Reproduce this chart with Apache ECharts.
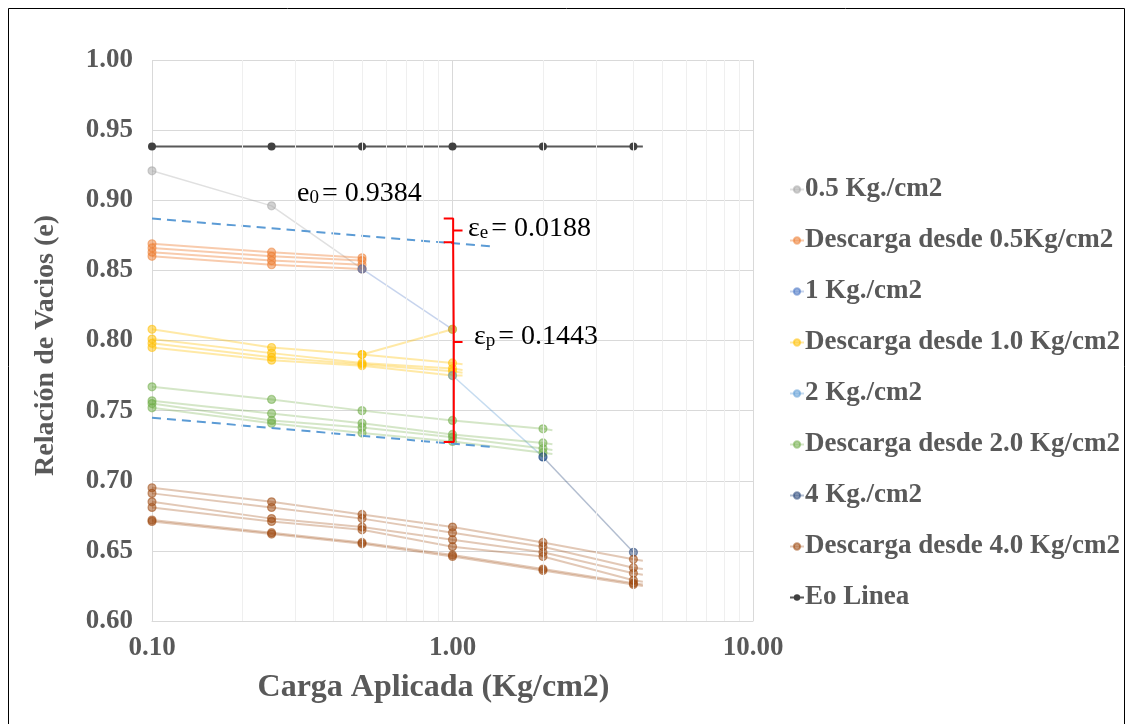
<!DOCTYPE html>
<html>
<head>
<meta charset="utf-8">
<script src="https://cdn.jsdelivr.net/npm/echarts@6/dist/echarts.min.js"></script>
<style>
    html, body { margin: 0; padding: 0; background: #fff; }
    #chart { width: 1126px; height: 724px; }
</style>
</head>
<body>
<div id="chart"></div>
<script>
// ============================================
// 数据
// ============================================

// 加载曲线 (carga)
const x05 = [0.1, 0.25, 0.5];
const e05 = [0.921, 0.896, 0.851];
const x10 = [0.5, 1.0];
const e10 = [0.851, 0.808];
const x20 = [1.0, 2.0];
const e20 = [0.775, 0.717];
const x40 = [2.0, 4.0];
const e40 = [0.717, 0.649];

// 卸载曲线 (descarga)
const xDes05 = [0.1, 0.25, 0.5];
const eDes05 = [
    [0.869, 0.863, 0.859],
    [0.866, 0.860, 0.857],
    [0.863, 0.857, 0.854],
    [0.860, 0.854, 0.851]
];
const xDes10 = [0.1, 0.25, 0.5, 1.0, 1.08];
const eDes10 = [
    [0.808, 0.795, 0.790, 0.784, 0.783],
    [0.801, 0.791, 0.784, 0.780, 0.779],
    [0.798, 0.788, 0.783, 0.778, 0.777],
    [0.795, 0.786, 0.782, 0.775, 0.775]
];
const xDes10b = [0.5, 1.0];
const eDes10b = [0.790, 0.808];
const xDes20 = [0.1, 0.25, 0.5, 1.0, 2.0, 2.15];
const eDes20 = [
    [0.767, 0.758, 0.750, 0.743, 0.737, 0.736],
    [0.757, 0.748, 0.741, 0.733, 0.727, 0.726],
    [0.755, 0.743, 0.738, 0.731, 0.723, 0.722],
    [0.752, 0.741, 0.734, 0.728, 0.720, 0.719]
];
const xDes40 = [0.1, 0.25, 0.5, 1.0, 2.0, 4.0, 4.3];
const eDes40 = [
    [0.695, 0.685, 0.676, 0.667, 0.656, 0.644, 0.643],
    [0.691, 0.681, 0.673, 0.663, 0.653, 0.638, 0.637],
    [0.685, 0.673, 0.667, 0.658, 0.649, 0.634, 0.633],
    [0.681, 0.671, 0.665, 0.653, 0.646, 0.629, 0.628],
    [0.672, 0.663, 0.656, 0.647, 0.637, 0.627, 0.626],
    [0.671, 0.662, 0.655, 0.646, 0.636, 0.626, 0.625]
];

// e0 线
const xEo = [0.1, 0.25, 0.5, 1.0, 2.0, 4.0, 4.3];
const eEo = [0.9384, 0.9384, 0.9384, 0.9384, 0.9384, 0.9384, 0.9384];

// 趋势线 (虚线)
const xTrend = [0.1, 1.36];
const eTrendTop = [0.887, 0.867];
const eTrendBot = [0.745, 0.724];

// 标注括号
const braceE = [[0.935, 0.887], [1.005, 0.887], [1.005, 0.8785], [1.08, 0.8785], [1.005, 0.8785], [1.005, 0.870], [0.935, 0.870]];
const braceP = [[1.005, 0.870], [1.01, 0.870], [1.01, 0.799], [1.08, 0.799], [1.01, 0.799], [1.01, 0.7276], [0.935, 0.7276]];

// 刻度
const yTicks = { min: 0.60, max: 1.00, step: 0.05 };
const minorX = [0.2, 0.3, 0.4, 0.5, 0.6, 0.7, 0.8, 0.9, 2, 3, 4, 5, 6, 7, 8, 9];

const legendNames = [
    '0.5 Kg./cm2', 'Descarga desde 0.5Kg/cm2', '1 Kg./cm2', 'Descarga desde 1.0 Kg/cm2',
    '2 Kg./cm2', 'Descarga desde 2.0 Kg/cm2', '4 Kg./cm2', 'Descarga desde 4.0 Kg/cm2', 'Eo Linea'
];

// ============================================
// 工具
// ============================================

function pairs(xs, ys) {
    return xs.map((x, i) => [x, ys[i]]);
}

// 末尾延长点不画标记
function curve(name, xs, ys, color, lineOpacity, width, lastPlain) {
    return {
        name: name,
        type: 'line',
        data: pairs(xs, ys),
        symbol: lastPlain
            ? (val, params) => (params.dataIndex === xs.length - 1 ? 'none' : 'circle')
            : 'circle',
        symbolSize: 8,
        showSymbol: true,
        z: 3,
        lineStyle: { color: color, width: width || 2, opacity: lineOpacity },
        itemStyle: { color: color, opacity: 0.5, borderColor: color, borderWidth: 1.2 },
        emphasis: { disabled: true },
        animation: false
    };
}

const series = [];
series.push({
    name: 'minor',
    type: 'line',
    data: [],
    z: 1,
    silent: true,
    markLine: {
        silent: true,
        symbol: 'none',
        label: { show: false },
        lineStyle: { color: '#efefef', width: 1, type: 'solid' },
        data: minorX.map(v => ({ xAxis: v }))
    }
});

series.push(curve('0.5 Kg./cm2', x05, e05, '#A5A5A5', 0.35, 1.5));
eDes05.forEach(ys => series.push(curve('Descarga desde 0.5Kg/cm2', xDes05, ys, '#ED7D31', 0.4)));
series.push(curve('1 Kg./cm2', x10, e10, '#4472C4', 0.3, 1.5));
eDes10.forEach(ys => series.push(curve('Descarga desde 1.0 Kg/cm2', xDes10, ys, '#FFC000', 0.35, 2, true)));
series.push(curve('Descarga desde 1.0 Kg/cm2', xDes10b, eDes10b, '#FFC000', 0.35));
series.push(curve('2 Kg./cm2', x20, e20, '#5B9BD5', 0.35, 1.5));
eDes20.forEach(ys => series.push(curve('Descarga desde 2.0 Kg/cm2', xDes20, ys, '#70AD47', 0.3, 2, true)));
series.push(curve('4 Kg./cm2', x40, e40, '#264478', 0.35, 1.5));
eDes40.forEach(ys => series.push(curve('Descarga desde 4.0 Kg/cm2', xDes40, ys, '#9E480E', 0.3, 2, true)));

const eo = curve('Eo Linea', xEo, eEo, '#595959', 1, 2, true);
eo.symbolSize = 8;
eo.itemStyle = { color: '#404040', opacity: 1 };
series.push(eo);

[eTrendTop, eTrendBot].forEach(ys => series.push({
    name: 'trend',
    type: 'line',
    data: pairs(xTrend, ys),
    symbol: 'none',
    z: 4,
    lineStyle: { color: '#5B9BD5', width: 2, type: [9, 6] },
    animation: false
}));

[braceE, braceP].forEach(pts => series.push({
    name: 'brace',
    type: 'line',
    data: pts,
    symbol: 'none',
    z: 5,
    lineStyle: { color: '#FF0000', width: 2 },
    animation: false
}));

// ============================================
// 图表
// ============================================

const FONT = '"Liberation Serif", "Times New Roman", serif';
const chart = echarts.init(document.getElementById('chart'), null, { renderer: 'canvas' });

const rich = {
    n: { fontFamily: FONT, fontSize: 28, color: '#000' },
    s: { fontFamily: FONT, fontSize: 19, color: '#000', verticalAlign: 'bottom', padding: [0, 3, 0, 0] }
};

chart.setOption({
    backgroundColor: '#fff',
    animation: false,
    grid: { left: 152, right: 373, top: 60, bottom: 103, containLabel: false },
    xAxis: {
        type: 'log',
        logBase: 10,
        min: 0.1,
        max: 10,
        name: 'Carga Aplicada (Kg/cm2)',
        nameLocation: 'middle',
        nameGap: 51,
        nameTextStyle: { fontFamily: FONT, fontSize: 32, fontWeight: 'bold', color: '#595959', padding: [0, 38, 0, 0] },
        axisLine: { show: true, lineStyle: { color: '#d9d9d9', width: 1 } },
        axisTick: { show: false },
        axisLabel: { fontFamily: FONT, fontSize: 27, fontWeight: 'bold', color: '#595959', margin: 14, formatter: v => v.toFixed(2) },
        splitLine: { show: true, lineStyle: { color: '#d9d9d9', width: 1 } }
    },
    yAxis: {
        type: 'value',
        min: yTicks.min,
        max: yTicks.max,
        interval: yTicks.step,
        name: 'Relación de Vacios (e)',
        nameLocation: 'middle',
        nameGap: 92,
        nameTextStyle: { fontFamily: FONT, fontSize: 28, fontWeight: 'bold', color: '#595959', padding: [0, 10, 0, 0] },
        axisLine: { show: false },
        axisTick: { show: false },
        axisLabel: { fontFamily: FONT, fontSize: 27, fontWeight: 'bold', color: '#595959', margin: 19, formatter: v => v.toFixed(2) },
        splitLine: { show: true, lineStyle: { color: '#d9d9d9', width: 1 } }
    },
    legend: {
        data: legendNames,
        orient: 'vertical',
        left: 784,
        top: 171,
        itemWidth: 14,
        itemHeight: 8,
        itemGap: 24,
        selectedMode: false,
        textStyle: { fontFamily: FONT, fontSize: 27, fontWeight: 'bold', color: '#595959', padding: [0, 0, 0, -4] }
    },
    graphic: [
        {
            type: 'rect',
            shape: { x: 8.5, y: 8.5, width: 1116, height: 730 },
            style: { fill: 'none', stroke: '#000', lineWidth: 1 },
            silent: true
        },
        {
            type: 'text',
            x: 297, y: 194,
            z: 10,
            style: { text: '{n|e}{s|0}{n|= 0.9384}', rich: rich, verticalAlign: 'middle' }
        },
        {
            type: 'text',
            x: 468, y: 229,
            z: 10,
            style: { text: '{n|ε}{s|e}{n|= 0.0188}', rich: rich, verticalAlign: 'middle' }
        },
        {
            type: 'text',
            x: 474, y: 337,
            z: 10,
            style: { text: '{n|ε}{s|p}{n|= 0.1443}', rich: rich, verticalAlign: 'middle' }
        }
    ],
    series: series
});
</script>
</body>
</html>
